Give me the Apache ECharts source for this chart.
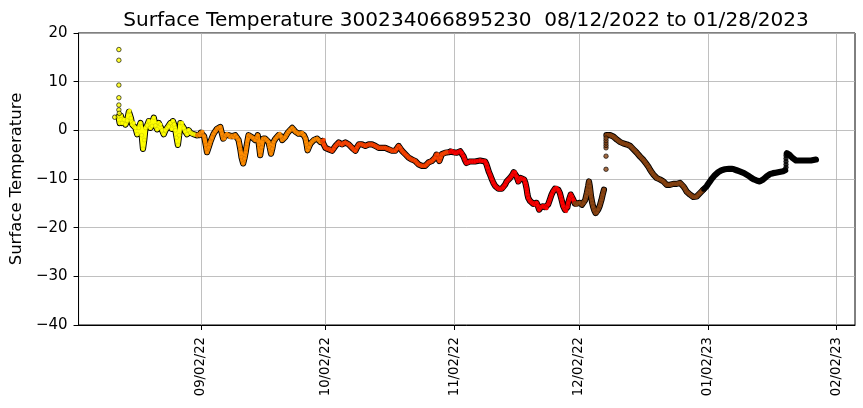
<!DOCTYPE html>
<html>
<head>
<meta charset="utf-8">
<script src="https://cdn.jsdelivr.net/npm/echarts@6/dist/echarts.min.js"></script>
<style>
html,body{margin:0;padding:0;background:#fff;}
#chart{width:863px;height:408px;}
</style>
</head>
<body>
<div id="chart"></div>
<script>
// ---- data: [days since 2022-08-12 00:00, surface temperature] ----
const startDate = [2022, 7, 12];
const xTickLabels = ['09/02/22', '10/02/22', '11/02/22', '12/02/22', '01/02/23', '02/02/23'];
const titleText = 'Surface Temperature 300234066895230  08/12/2022 to 01/28/2023';
const yLabel = 'Surface Temperature';

const augDots = [[0.3, 2.7], [1.3, 16.6], [1.3, 14.4], [1.3, 9.3], [1.3, 6.7], [1.3, 5.2], [1.3, 4.2], [1.4, 3.5]];
const aug = [[1.2, 2.8], [1.5, 1.5], [1.8, 3.0], [2.1, 1.5], [2.5, 2.2], [2.9, 1.2], [3.3, 2.0], [3.7, 3.8], [3.9, 4.0], [4.2, 2.5], [4.5, 1.2], [4.9, 1.5], [5.3, 0.5], [5.7, -0.8], [6.1, 0.5], [6.5, 1.5], [6.8, -1.0], [7.1, -3.8], [7.4, -2.0], [7.7, 0.5], [8.1, 1.0], [8.5, 1.9], [8.9, 0.5], [9.3, 0.9], [9.7, 2.6], [10.1, 1.0], [10.5, 0.2], [10.9, 1.5], [11.3, 1.2], [11.7, 0.0], [12.1, -0.8], [12.5, 0.0], [12.9, 0.5], [13.3, 0.8], [13.7, 1.5], [14.0, 0.3], [14.3, 1.9], [14.6, 1.2], [14.9, 0.0], [15.2, -1.5], [15.5, -3.0], [15.8, -1.0], [16.1, 1.5], [16.5, 1.5], [16.9, 0.5], [17.3, -0.3], [17.7, -0.8], [18.1, 0.0], [18.5, -0.5], [18.9, -0.7], [19.3, -0.8], [19.7, -0.9]];
const sep = [[20.1, -1.0], [20.4, -0.8], [20.7, -1.0], [21.0, -0.5], [21.4, -0.3], [21.8, -1.2], [22.2, -3.0], [22.5, -4.5], [22.9, -3.5], [23.3, -2.4], [23.7, -1.5], [24.1, -0.7], [24.5, -0.2], [24.9, 0.3], [25.3, 0.5], [25.7, 0.7], [26.1, -0.7], [26.4, -1.7], [26.7, -1.7], [27.0, -1.0], [27.3, -0.7], [27.7, -1.0], [28.1, -1.4], [28.5, -1.2], [28.9, -1.4], [29.3, -1.0], [29.7, -1.4], [30.1, -2.0], [30.5, -3.8], [30.8, -5.5], [31.2, -6.8], [31.5, -5.8], [31.8, -4.5], [32.1, -2.8], [32.5, -1.0], [32.9, -1.2], [33.3, -1.4], [33.7, -1.6], [34.1, -2.0], [34.5, -1.5], [34.7, -1.0], [35.0, -3.0], [35.3, -5.1], [35.6, -3.5], [36.0, -1.7], [36.5, -1.7], [36.9, -2.0], [37.3, -2.4], [37.6, -3.5], [37.9, -4.8], [38.2, -3.8], [38.5, -2.4], [38.9, -1.8], [39.3, -1.4], [39.7, -1.0], [40.0, -0.7], [40.3, -1.2], [40.6, -2.0], [41.0, -1.7], [41.3, -1.4], [41.7, -0.8], [42.1, -0.3], [42.5, 0.1], [43.0, 0.5], [43.4, 0.1], [43.8, -0.3], [44.2, -0.5], [44.5, -0.7], [45.0, -0.6], [45.4, -0.5], [45.8, -1.0], [46.2, -1.7], [46.5, -3.0], [46.7, -4.1], [47.0, -3.5], [47.4, -2.7], [47.8, -2.3], [48.2, -2.0], [48.6, -1.8], [49.0, -1.7], [49.4, -2.0], [49.8, -2.4]];
const oct = [[50.2, -2.2], [50.6, -2.0], [51.0, -3.6], [51.4, -3.8], [51.8, -3.9], [52.2, -4.0], [52.6, -4.2], [53.0, -3.8], [53.4, -3.2], [53.8, -2.8], [54.2, -2.5], [54.6, -2.8], [55.0, -2.9], [55.4, -2.6], [55.8, -2.5], [56.2, -2.7], [56.6, -2.9], [57.0, -3.2], [57.4, -3.6], [57.8, -4.0], [58.2, -4.2], [58.6, -3.5], [59.0, -2.9], [59.4, -2.8], [59.8, -2.9], [60.2, -3.0], [60.6, -3.2], [61.0, -3.0], [61.4, -2.9], [61.8, -2.9], [62.2, -2.9], [62.6, -3.0], [63.0, -3.2], [63.4, -3.4], [63.8, -3.6], [64.2, -3.6], [64.6, -3.6], [65.0, -3.6], [65.4, -3.6], [65.8, -3.8], [66.2, -3.9], [66.6, -4.0], [67.0, -4.2], [67.4, -4.2], [67.8, -4.2], [68.2, -3.8], [68.6, -3.2], [69.0, -3.6], [69.4, -4.2], [69.8, -4.6], [70.2, -4.9], [70.6, -5.2], [71.0, -5.6], [71.4, -5.8], [71.8, -6.0], [72.2, -6.1], [72.6, -6.3], [73.0, -6.7], [73.4, -7.0], [73.8, -7.2], [74.2, -7.3], [74.6, -7.3], [75.0, -7.3], [75.4, -7.0], [75.8, -6.6], [76.2, -6.4], [76.6, -6.3], [77.0, -6.0], [77.4, -5.6], [77.7, -5.0], [78.0, -4.9], [78.4, -6.3], [78.7, -5.6], [79.0, -4.9], [79.4, -4.8], [79.8, -4.6], [80.2, -4.5], [80.6, -4.5]];
const nov = [[81.0, -4.4], [81.4, -4.2], [81.8, -4.5], [82.2, -4.7], [82.6, -4.6], [83.0, -4.4], [83.4, -4.3], [83.8, -4.6], [84.2, -5.3], [84.5, -6.0], [84.9, -6.7], [85.3, -6.6], [85.8, -6.4], [86.4, -6.4], [87.0, -6.4], [87.6, -6.3], [88.2, -6.2], [88.8, -6.3], [89.4, -6.4], [89.7, -6.9], [90.0, -7.7], [90.3, -8.5], [90.6, -9.1], [91.0, -10.0], [91.4, -10.8], [91.8, -11.4], [92.2, -11.8], [92.6, -12.0], [93.0, -12.1], [93.4, -12.0], [93.8, -11.8], [94.2, -11.2], [94.6, -10.5], [95.0, -10.1], [95.4, -9.8], [95.7, -9.5], [96.0, -9.1], [96.3, -8.6], [96.6, -8.6], [97.0, -9.5], [97.4, -10.5], [97.7, -10.1], [98.0, -9.8], [98.4, -10.0], [98.8, -10.1], [99.1, -10.8], [99.4, -12.0], [99.6, -13.2], [99.8, -13.9], [100.2, -14.5], [100.6, -14.9], [101.0, -15.1], [101.4, -15.3], [101.8, -14.9], [102.1, -15.5], [102.4, -16.3], [102.8, -15.8], [103.3, -15.6], [103.8, -15.8], [104.2, -16.0], [104.6, -15.2], [105.0, -14.2], [105.4, -13.2], [105.8, -12.5], [106.2, -12.0], [106.6, -11.8], [107.0, -12.2], [107.4, -12.9], [107.8, -14.2], [108.2, -15.6], [108.6, -16.3], [108.9, -16.6], [109.2, -15.8], [109.4, -14.9], [109.7, -14.0], [110.0, -13.2], [110.3, -13.6], [110.6, -14.2]];
const decA = [[111.0, -15.0], [111.3, -15.3], [111.7, -15.0], [112.2, -14.9], [112.7, -15.3], [113.1, -15.0], [113.5, -14.3], [113.9, -12.8], [114.2, -11.5], [114.4, -10.5], [114.6, -11.5], [114.9, -13.6], [115.2, -15.0], [115.4, -15.7], [115.7, -16.5], [116.0, -17.0], [116.3, -16.9], [116.6, -16.3], [117.0, -15.5], [117.4, -14.3], [117.7, -13.2], [118.0, -12.2]];
const decDots = [[118.5, -8.0], [118.5, -5.3], [118.5, -3.6], [118.5, -3.1], [118.5, -2.6], [118.5, -2.1], [118.5, -1.6]];
const decB = [[118.6, -1.0], [119.0, -0.9], [119.5, -1.0], [119.9, -1.1], [120.3, -1.3], [120.7, -1.6], [121.1, -1.9], [121.5, -2.2], [121.9, -2.4], [122.3, -2.6], [122.7, -2.7], [123.1, -2.8], [123.5, -2.9], [123.9, -3.0], [124.3, -3.2], [124.7, -3.5], [125.1, -3.9], [125.5, -4.2], [125.9, -4.6], [126.3, -5.0], [126.7, -5.4], [127.1, -5.8], [127.5, -6.1], [127.9, -6.5], [128.3, -7.0], [128.7, -7.5], [129.1, -8.1], [129.5, -8.6], [129.9, -9.1], [130.3, -9.5], [130.7, -9.8], [131.1, -10.0], [131.5, -10.1], [131.9, -10.3], [132.3, -10.5], [132.7, -10.9], [133.1, -11.2], [133.5, -11.2], [133.9, -11.2], [134.3, -11.1], [134.7, -11.0], [135.1, -11.0], [135.5, -11.0], [135.9, -10.9], [136.3, -10.8], [136.7, -11.1], [137.1, -11.5], [137.5, -12.0], [137.9, -12.6], [138.3, -12.9], [138.7, -13.2], [139.1, -13.5], [139.5, -13.7], [139.9, -13.7], [140.3, -13.6], [140.7, -13.2], [141.1, -12.9], [141.5, -12.5]];
const janA = [[141.9, -12.2], [142.3, -11.8], [142.7, -11.5], [143.1, -11.0], [143.5, -10.5], [143.9, -10.0], [144.3, -9.6], [144.7, -9.2], [145.1, -8.9], [145.5, -8.6], [145.9, -8.4], [146.3, -8.2], [146.7, -8.1], [147.1, -8.0], [147.5, -7.9], [148.1, -7.9], [148.7, -7.9], [149.3, -8.0], [149.9, -8.2], [150.5, -8.4], [151.1, -8.6], [151.7, -8.8], [152.3, -9.1], [152.9, -9.4], [153.5, -9.8], [154.1, -10.1], [154.7, -10.3], [155.1, -10.5], [155.5, -10.5], [155.9, -10.4], [156.3, -10.1], [156.7, -9.8], [157.1, -9.5], [157.5, -9.2], [157.9, -9.0], [158.3, -8.9], [158.7, -8.8], [159.3, -8.7], [159.9, -8.6], [160.5, -8.5], [161.1, -8.4], [161.6, -8.2]];
const janDots = [[161.8, -7.6], [161.8, -7.0], [161.8, -6.4], [161.8, -5.8], [161.8, -5.2]];
const janB = [[162.0, -4.7], [162.3, -4.8], [162.6, -5.0], [163.0, -5.4], [163.4, -5.7], [163.8, -6.0], [164.2, -6.2], [164.8, -6.2], [165.4, -6.2], [166.0, -6.2], [166.6, -6.2], [167.2, -6.2], [167.8, -6.2], [168.4, -6.1], [169.0, -6.0]];

const monthColors = {aug: '#ffff00', sep: '#ff8c00', oct: '#ff4500', nov: '#ff0000', dec: '#8b4513', jan: '#000000'};

// ---- build ----
const DAY = 86400000;
const T0 = new Date(startDate[0], startDate[1], startDate[2]).getTime();
const toPt = p => [T0 + p[0] * DAY, p[1]];
const parseTick = s => { const [m, d, y] = s.split('/').map(Number); return new Date(2000 + y, m - 1, d).getTime(); };
const tickTimes = xTickLabels.map(parseTick);
const pad2 = n => (n < 10 ? '0' : '') + n;

const segments = [
  {data: aug, next: sep, c: monthColors.aug},
  {data: sep, next: oct, c: monthColors.sep},
  {data: oct, next: nov, c: monthColors.oct},
  {data: nov, next: decA, c: monthColors.nov},
  {data: decA, next: null, c: monthColors.dec},
  {data: decB, next: janA, c: monthColors.dec},
  {data: janA, next: null, c: monthColors.jan},
  {data: janB, next: null, c: monthColors.jan}
];
const dots = [
  {data: augDots, c: monthColors.aug},
  {data: decDots, c: monthColors.dec},
  {data: janDots, c: monthColors.jan}
];

const series = [];
segments.forEach(s => {
  const pts = s.data.map(toPt);
  if (s.next) pts.push(toPt(s.next[0]));
  series.push({
    type: 'line', data: pts, z: 2, silent: true, showSymbol: false,
    lineStyle: {color: '#000', width: 6.2, cap: 'round', join: 'round'}
  });
});
segments.forEach(s => {
  const pts = s.data.map(toPt);
  if (s.next) pts.push(toPt(s.next[0]));
  series.push({
    type: 'line', data: pts, z: 3, silent: true,
    showSymbol: true, showAllSymbol: true, symbol: 'circle', symbolSize: 4,
    itemStyle: {color: s.c, borderColor: 'rgba(0,0,0,0.22)', borderWidth: 0.5},
    lineStyle: {color: s.c, width: 4.3, cap: 'round', join: 'round'}
  });
});
dots.forEach(s => {
  series.push({
    type: 'scatter', data: s.data.map(toPt), z: 4, silent: true,
    symbol: 'circle', symbolSize: 4.5,
    itemStyle: {color: s.c, borderColor: '#000', borderWidth: 0.8}
  });
});

const chart = echarts.init(document.getElementById('chart'), null, {renderer: 'canvas'});
const FONT = 'DejaVu Sans';
chart.setOption({
  animation: false,
  backgroundColor: '#fff',
  title: {
    text: titleText, left: 461, top: 6, textAlign: 'center',
    textStyle: {fontFamily: FONT, fontSize: 20.1, fontWeight: 'normal', color: '#000'}
  },
  grid: {left: 78, right: 8, top: 33, bottom: 83, show: true, borderColor: '#000', borderWidth: 1, containLabel: false},
  xAxis: {
    type: 'value',
    min: T0 - 8.4 * DAY, max: T0 + 178.4 * DAY,
    axisLine: {show: true, onZero: false, lineStyle: {color: '#000', width: 1}},
    axisTick: {show: true, length: 5, lineStyle: {color: '#000'}, customValues: tickTimes},
    axisLabel: {
      customValues: tickTimes, rotate: 90, margin: 12,
      fontFamily: FONT, fontSize: 13.2, color: '#000',
      formatter: v => { const d = new Date(v); return pad2(d.getMonth() + 1) + '/' + pad2(d.getDate()) + '/' + pad2(d.getFullYear() % 100); }
    },
    splitLine: {show: true, lineStyle: {color: '#b0b0b0', width: 0.8}}
  },
  yAxis: {
    type: 'value', min: -40, max: 20, interval: 10,
    name: yLabel, nameLocation: 'middle', nameGap: 52,
    nameTextStyle: {fontFamily: FONT, fontSize: 16.5, color: '#000'},
    axisLine: {show: true, onZero: false, lineStyle: {color: '#000', width: 1}},
    axisTick: {show: true, length: 5, lineStyle: {color: '#000'}},
    axisLabel: {margin: 11, fontFamily: FONT, fontSize: 15, color: '#000', formatter: v => String(v).replace('-', '\u2212')},
    splitLine: {show: true, lineStyle: {color: '#b0b0b0', width: 0.8}}
  },
  series: series
});
</script>
</body>
</html>
